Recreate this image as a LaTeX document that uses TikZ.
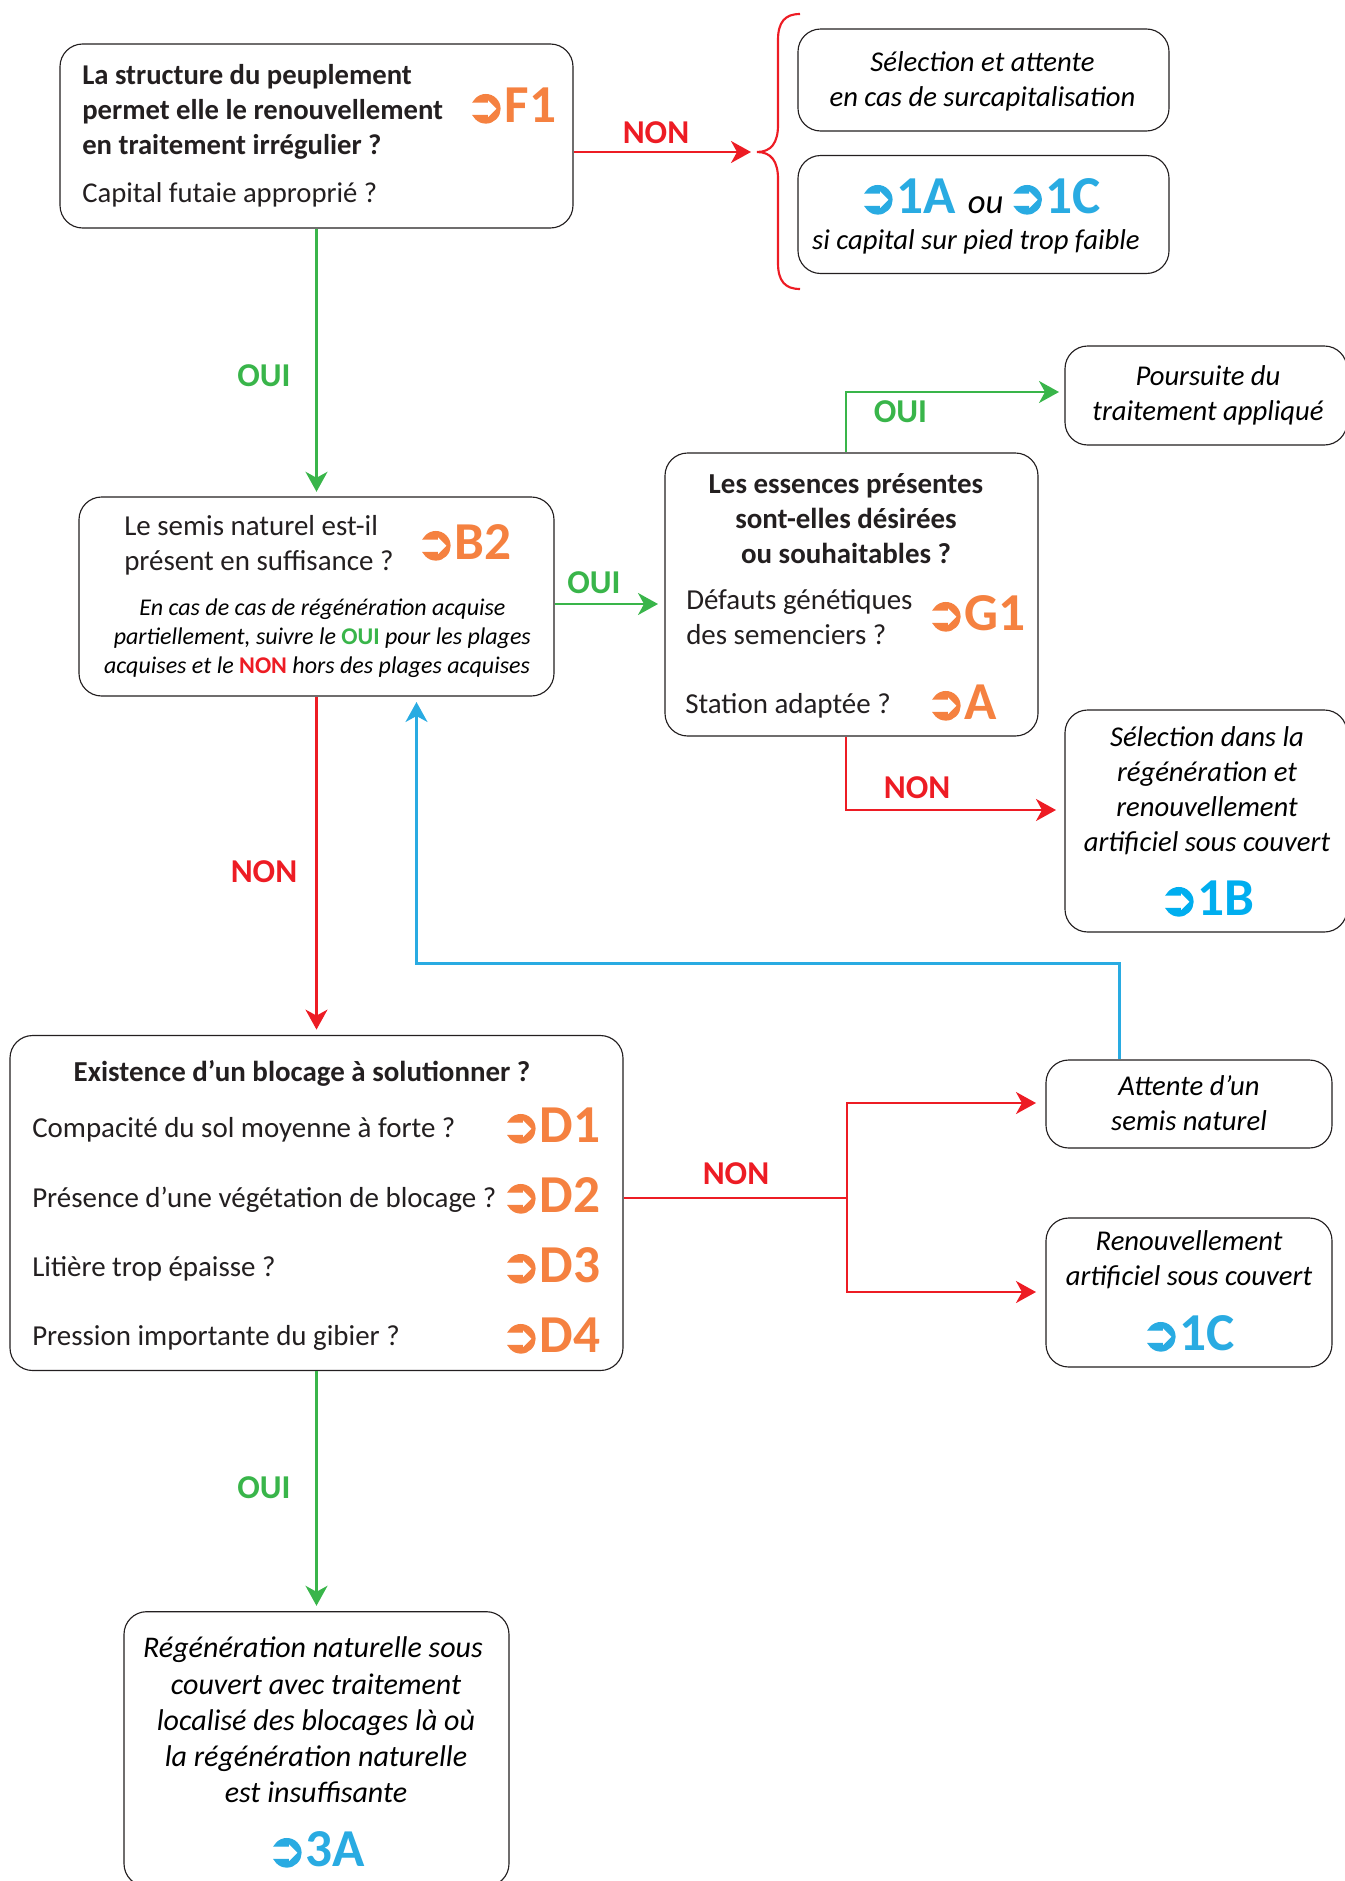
\documentclass[tikz,border=0pt]{standalone}
\usepackage{fontspec}
\setmainfont{Carlito}
\newfontfamily\djv[FakeBold=3]{DejaVu Sans}
\usetikzlibrary{arrows.meta}
\definecolor{cred}{HTML}{ED1C24}
\definecolor{cgreen}{HTML}{39B54A}
\definecolor{cblue}{HTML}{29ABE2}
\definecolor{ccyan}{HTML}{00AEEF}
\definecolor{corange}{HTML}{F58140}
\definecolor{ctext}{HTML}{231F20}
\newcommand{\body}{\fontsize{21.7}{26.2}\selectfont}
\newcommand{\bodys}{\fontsize{21.5}{26.2}\selectfont}
\newcommand{\code}[1]{{\fontsize{35}{35}\selectfont\djv ➲}\kern-0.06em{\fontsize{40}{40}\selectfont\bfseries #1}}
\tikzset{
  x=0.75pt,y=-0.75pt,
  boxn/.style={draw=ctext,line width=0.85pt,rounded corners=17pt,fill=white,inner sep=0pt},
  txt/.style={inner sep=0pt,font=\body,text=ctext,align=center},
  ltxt/.style={txt,align=left,anchor=west},
  itxt/.style={txt,font=\bodys\itshape,text=black},
  qb/.style={txt,font=\body\bfseries},
  cod/.style={inner sep=0pt,anchor=base west},
  lab/.style={inner sep=0pt,font=\fontsize{25}{25}\selectfont\bfseries},
  arr/.style={line width=1.6pt,-{Stealth[length=15pt,width=16.5pt,inset=4.5pt]}},
  ln/.style={line width=1.6pt},
}
\begin{document}
\begin{tikzpicture}
\useasboundingbox (0,0) rectangle (1345,1881);
\clip (0,0) rectangle (1345,1881);
% boxes
\node[boxn,minimum width=384.75pt,minimum height=138pt] (f1) at (316.5,136) {};
\node[boxn,minimum width=278.25pt,minimum height=76.5pt] (s1) at (983.5,80) {};
\node[boxn,minimum width=278.25pt,minimum height=88.5pt] (s2) at (983.5,214.5) {};
\node[boxn,minimum width=211.5pt,minimum height=74.25pt] (pou) at (1206,395.5) {};
\node[boxn,minimum width=356.25pt,minimum height=149.25pt] (b2) at (316.5,596.5) {};
\node[boxn,minimum width=279.75pt,minimum height=212.25pt] (g1) at (851.5,594.5) {};
\node[boxn,minimum width=211.5pt,minimum height=166.5pt] (sel) at (1206,821) {};
\node[boxn,minimum width=459.75pt,minimum height=251.25pt] (d) at (316.5,1203) {};
\node[boxn,minimum width=214.5pt,minimum height=66pt] (att) at (1189,1104) {};
\node[boxn,minimum width=214.5pt,minimum height=111.75pt] (ren) at (1189,1292.5) {};
\node[boxn,minimum width=288.75pt,minimum height=206pt] (tra) at (316.5,1749) {};
% helper coordinates
\coordinate (bt) at (751,152);
\coordinate (brc) at (757,152);
\coordinate (pt) at (1059,392);
\coordinate (st) at (1056,810);
\coordinate (gb) at (658,604);
\coordinate (gx) at (846,600);
\coordinate (bu) at (416.5,702);
\coordinate (bm) at (1119.5,963.5);
\coordinate (j) at (847,1198);
\coordinate (at) at (1036,1103);
\coordinate (rt) at (1036,1292);
% connectors
\draw[arr,cgreen] (f1.south) -- ([yshift=3.5pt]b2.north);
\draw[arr,cred] (f1.east |- bt) -- (bt);
\draw[ln,cred] (800,14) .. controls (785,14) and (778,22) .. (778,40) -- (778,125) .. controls (778,143) and (771,152) .. (brc) .. controls (771,152) and (778,161) .. (778,179) -- (778,263) .. controls (778,281) and (785,289) .. (800,289);
\draw[arr,cgreen] (b2.east |- gb) -- (gb);
\draw[arr,cgreen] (gx |- g1.north) |- (pt);
\draw[arr,cred] (gx |- g1.south) |- (st);
\draw[arr,cred] (b2.south) -- ([yshift=4pt]d.north);
\draw[arr,cblue] (bm |- att.north) -- (bm) -| (bu);
\draw[ln,cred] (d.east |- j) -- (j);
\draw[arr,cred] (j) |- (at);
\draw[arr,cred] (j) |- (rt);
\draw[arr,cgreen] (d.south) -- ([yshift=4pt]tra.north);
% labels
\node[lab,text=cred] (n1) at (656,133) {NON};
\node[lab,text=cgreen] (o1) at (264,376) {OUI};
\node[lab,text=cgreen] (o2) at (900.5,412) {OUI};
\node[lab,text=cgreen] (o3) at (594,583) {OUI};
\node[lab,text=cred] (n2) at (917,788) {NON};
\node[lab,text=cred] (n3) at (264,872) {NON};
\node[lab,text=cred] (n4) at (736,1174) {NON};
\node[lab,text=cgreen] (o4) at (264,1488) {OUI};
% F1
\node[ltxt,font=\bodys\bfseries,anchor=north west] (tf1) at (82,64) {La structure du peuplement\\permet elle le renouvellement\\en traitement irrégulier ?};
\node[ltxt,font=\bodys] (tf2) at (82,194.5) {Capital futaie approprié ?};
\node[cod,text=corange] (cf1) at (466,122) {\code{F1}};
% right top
\node[itxt] (ts1) at (982.5,81) {Sélection et attente\\en cas de surcapitalisation};
\node[cod] (c1a) at (858,213) {\textcolor{cblue}{\code{1A}}{\fontsize{26}{26}\selectfont\itshape\kern9pt ou\kern3pt}\textcolor{cblue}{\code{1C}}};
\node[itxt] (ts2) at (976,241.5) {si capital sur pied trop faible};
\node[itxt] (tp) at (1208,395) {Poursuite du\\traitement appliqué};
% B2
\node[ltxt,anchor=north west] (tb) at (124,515) {Le semis naturel est-il\\présent en suffisance ?};
\node[cod,text=corange] (cb) at (416,559) {\code{B2}};
\node[itxt,font=\fontsize{18}{21.6}\selectfont\itshape] (tb2) at (317,638) {\hspace*{8pt}En cas de cas de régénération acquise\\\hspace*{8pt}partiellement, suivre le \textcolor{cgreen}{\bfseries\upshape OUI} pour les plages\\acquises et le \textcolor{cred}{\bfseries\upshape NON} hors des plages acquises};
% G1
\node[qb] (tg) at (846,519) {Les essences présentes\\sont-elles désirées\\ou souhaitables ?};
\node[ltxt,anchor=north west] (tg2) at (686,589.5) {Défauts génétiques\\des semenciers ?};
\node[ltxt] (tg3) at (685,706) {Station adaptée ?};
\node[cod,text=corange] (cg) at (926,630) {\code{G1}};
\node[cod,text=corange] (ca) at (926,719) {\code{A}};
% sel
\node[itxt] (tsel) at (1207,791) {Sélection dans la\\régénération et\\renouvellement\\artificiel sous couvert};
\node[cod,text=ccyan] (c1b) at (1159,915) {\code{1B}};
% D
\node[qb] (td) at (302,1073) {Existence d’un blocage à solutionner ?};
\node[ltxt] (td1) at (32,1130) {Compacité du sol moyenne à forte ?};
\node[ltxt] (td2) at (32,1200) {Présence d’une végétation de blocage ?};
\node[ltxt] (td3) at (32,1269) {Litière trop épaisse ?};
\node[ltxt] (td4) at (32,1338) {Pression importante du gibier ?};
\node[cod,text=corange] (cd1) at (501,1142) {\code{D1}};
\node[cod,text=corange] (cd2) at (501,1212) {\code{D2}};
\node[cod,text=corange] (cd3) at (501,1282) {\code{D3}};
\node[cod,text=corange] (cd4) at (501,1352) {\code{D4}};
% att, ren
\node[itxt] (tatt) at (1189,1103) {Attente d’un\\semis naturel};
\node[itxt] (tren) at (1189,1260) {Renouvellement\\artificiel sous couvert};
\node[cod,text=cblue] (c1c) at (1141,1350) {\code{1C}};
% 3A
\node[itxt,font=\fontsize{22.5}{27.2}\selectfont\itshape] (ttra) at (316,1720) {Régénération naturelle sous\hspace*{4.5pt}\\couvert avec traitement\\localisé des blocages là où\\la régénération naturelle\\est insuffisante};
\node[cod,text=cblue] (c3a) at (267,1866) {\code{3A}};
\end{tikzpicture}
\end{document}
